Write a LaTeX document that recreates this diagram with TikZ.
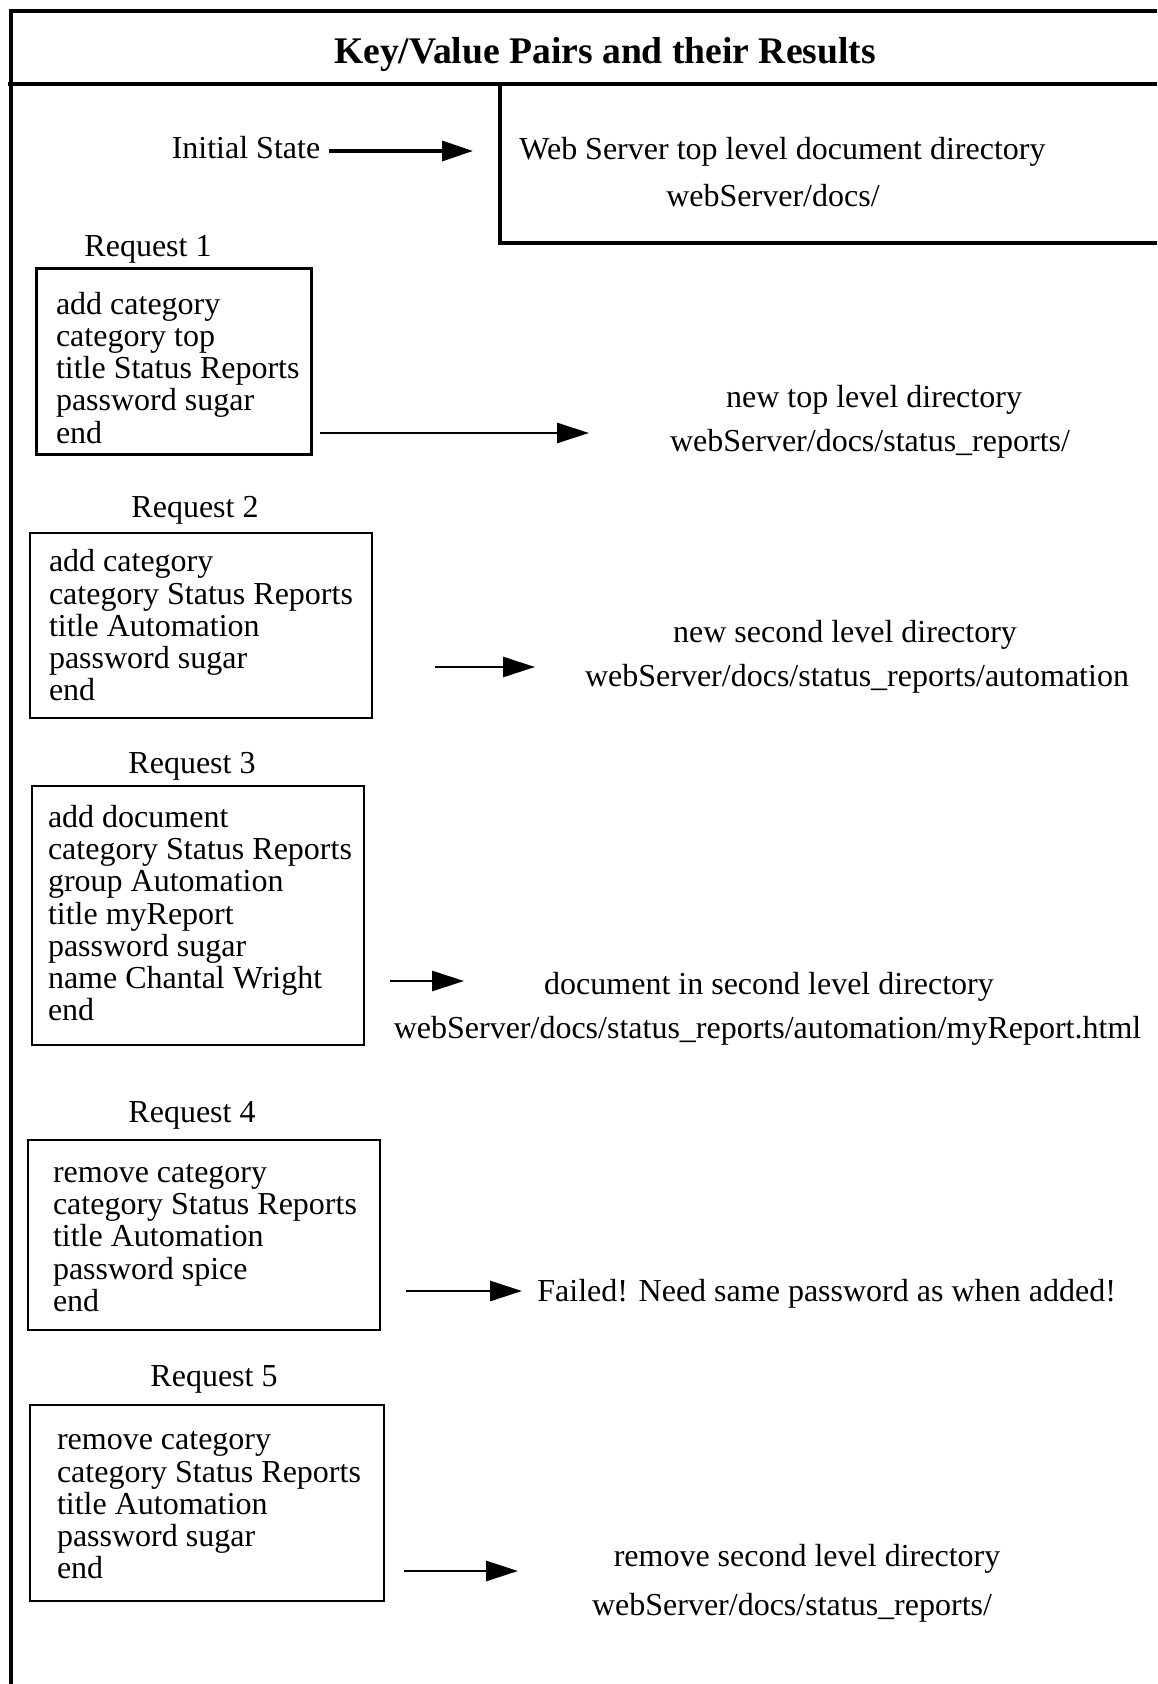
\documentclass[tikz,border=0pt]{standalone}
\usepackage{fontspec}
\setmainfont{Liberation Serif}
\usetikzlibrary{arrows.meta}
\newcommand\reqlines[3]{\raisebox{#2}[\height][\depth]{\makebox[#1][l]{\begin{tabular}{@{}l@{}}#3\end{tabular}}}}

\begin{document}
\begin{tikzpicture}
[
x=0.5pt,y=-0.5pt,
frame/.style={line width=1.7pt},
flow/.style={line width=1.4pt,-{Triangle[length=16pt,width=10pt]}},
bigflow/.style={line width=1.7pt,-{Triangle[length=15.5pt,width=10pt]}},
txt/.style={inner sep=0pt,font=\fontsize{16}{16}\selectfont,text height=13pt,text depth=2.6pt},
reqbox/.style 2 args={draw,line width=1.2pt,inner sep=0pt,
            minimum width=#1,minimum height=#2,
            font=\fontsize{16}{16.1}\selectfont},
]

\useasboundingbox (0,0) rectangle (1157,1684);

%Frame and header
\draw[frame] (1157,11) -- (11,11) -- (11,1684);
\draw[frame] (8,84) -- (1157,84);
\draw[frame] (500,84) -- (500,243) -- (1157,243);
\node[inner sep=0pt,font=\fontsize{18.8}{18.8}\selectfont\bfseries] (title) at (605,55) {Key/Value Pairs and their Results};

%Place the nodes
\node[txt] (init) at (246,148) {Initial State};
\node[txt,anchor=west] (r0a) at (519,149) {Web Server top level document directory};
\node[txt] (r0b) at (773,196) {webServer/docs/};

\node[txt] (q1) at (148,246) {Request 1};
\node[reqbox={137.5pt}{93pt}] (req1) at (174,361.5)
  {\reqlines{118pt}{-5.4pt}{add category\\category top\\title Status Reports\\password sugar\\end}};
\node[txt] (r1a) at (874,397) {new top level directory};
\node[txt] (r1b) at (870,441) {webServer/docs/status\_reports/};

\node[txt] (q2) at (195,507) {Request 2};
\node[reqbox={171pt}{92.5pt}] (req2) at (201,625.5)
  {\reqlines{152pt}{-2.2pt}{add category\\category Status Reports\\title Automation\\password sugar\\end}};
\node[txt] (r2a) at (845,632) {new second level directory};
\node[txt] (r2b) at (857,676) {webServer/docs/status\_reports/automation};

\node[txt] (q3) at (192,763) {Request 3};
\node[reqbox={166pt}{129.5pt}] (req3) at (198,915.5)
  {\reqlines{150pt}{-1.1pt}{add document\\category Status Reports\\group Automation\\title myReport\\password sugar\\name Chantal Wright\\end}};
\node[txt] (r3a) at (769,984) {document in second level directory};
\node[txt] (r3b) at (767.5,1028) {webServer/docs/status\_reports/automation/myReport.html};

\node[txt] (q4) at (192,1112) {Request 4};
\node[reqbox={176pt}{95pt}] (req4) at (204,1235)
  {\reqlines{151pt}{-2.7pt}{remove category\\category Status Reports\\title Automation\\password spice\\end}};
\node[txt,anchor=west] (r4) at (537,1291) {Failed! Need same password as when added!};

\node[txt] (q5) at (214,1376) {Request 5};
\node[reqbox={177pt}{98pt}] (req5) at (207,1503)
  {\reqlines{150pt}{-2.4pt}{remove category\\category Status Reports\\title Automation\\password sugar\\end}};
\node[txt] (r5a) at (807,1556) {remove second level directory};
\node[txt] (r5b) at (792,1605) {webServer/docs/status\_reports/};

%Arrow ends
\coordinate (a0s) at (329,151);  \coordinate (a0e) at (473,151);
\coordinate (a1s) at (320,433);  \coordinate (a1e) at (589,433);
\coordinate (a2s) at (435,667);  \coordinate (a2e) at (535,667);
\coordinate (a3s) at (390,981);  \coordinate (a3e) at (464,981);
\coordinate (a4s) at (406,1291); \coordinate (a4e) at (522,1291);
\coordinate (a5s) at (404,1571); \coordinate (a5e) at (518,1571);

%Draw the connections
\draw[bigflow] (a0s) -- (a0e);
\draw[flow] (a1s) -- (a1e);
\draw[flow] (a2s) -- (a2e);
\draw[flow] (a3s) -- (a3e);
\draw[flow] (a4s) -- (a4e);
\draw[flow] (a5s) -- (a5e);
\end{tikzpicture}
\end{document}
